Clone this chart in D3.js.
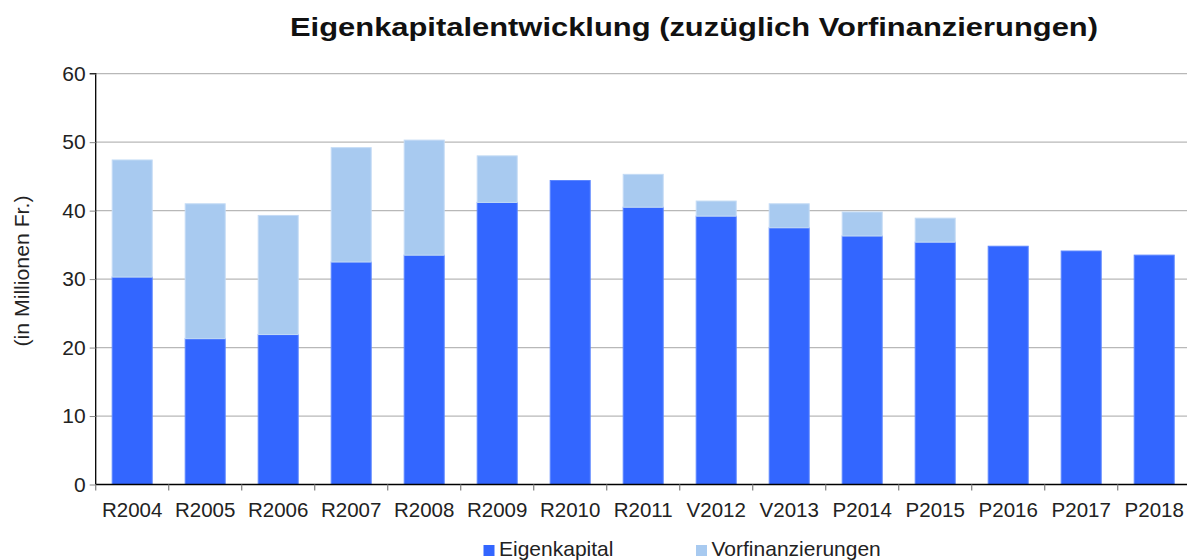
<!DOCTYPE html>
<html><head><meta charset="utf-8">
<script src="https://cdn.jsdelivr.net/npm/d3@7"></script>
<style>body{margin:0;background:#fff;overflow:hidden}svg{display:block;font-family:"Liberation Sans",Arial,sans-serif}</style>
</head><body><svg id="c" width="1187" height="560"></svg>
<script>
const categories = ["R2004","R2005","R2006","R2007","R2008","R2009","R2010","R2011","V2012","V2013","P2014","P2015","P2016","P2017","P2018"];
const eigenkapital = [30.3,21.3,21.9,32.5,33.5,41.2,44.4,40.5,39.2,37.5,36.3,35.4,34.8,34.1,33.5];
const vorfinanzierungen = [17.1,19.7,17.4,16.7,16.8,6.8,0,4.8,2.2,3.5,3.5,3.5,0,0,0];
const yTicks = [0,10,20,30,40,50,60];
const seriesNames = ["Eigenkapital","Vorfinanzierungen"];
const colors = ["#3366FF","#A8CAF0"];

const svg = d3.select("#c");
const x0 = 95.7, bw = 73.0;
const x = d3.scaleBand().domain(categories).range([x0, x0 + bw*categories.length]).paddingInner(0.452).paddingOuter(0.226);
const y = d3.scaleLinear().domain([0,60]).range([484.5, 73.7]);

// gridlines
svg.append("g").selectAll("line").data(yTicks.filter(d=>d>0)).join("line")
  .attr("x1", x0).attr("x2", 1187).attr("y1", d=>y(d)).attr("y2", d=>y(d))
  .attr("stroke", "#b8b8b8").attr("stroke-width", 1.3);

const data = categories.map((c,i)=>({c, e:eigenkapital[i], v:vorfinanzierungen[i]}));
const stack = d3.stack().keys(["e","v"])(data);
svg.append("g").selectAll("g").data(stack).join("g")
  .attr("fill", (d,i)=>colors[i])
  .attr("stroke", (d,i)=> i===0 ? "#5c86ff" : "#c4dbf5").attr("stroke-width", 1)
  .selectAll("rect").data(d=>d.filter(p=>p[1]-p[0]>0)).join("rect")
  .attr("x", d=>x(d.data.c)).attr("width", x.bandwidth())
  .attr("y", d=>y(d[1])).attr("height", d=>y(d[0])-y(d[1]));

// y axis
const yAxis = d3.axisLeft(y).tickValues(yTicks).tickSize(6).tickPadding(4);
const gy = svg.append("g").attr("transform", `translate(${x0},0)`).call(yAxis);
gy.select(".domain").attr("stroke","#000").attr("stroke-width",1.3).attr("d", `M-6,${y(60)}H0V${y(0)}`);
gy.selectAll(".tick line").attr("stroke","#888");
gy.selectAll("text").attr("font-size", 21).attr("fill","#222").attr("font-family","Liberation Sans, Arial, sans-serif");

// x axis
const xAxis = d3.axisBottom(x).tickSize(0).tickPadding(18);
const gx = svg.append("g").attr("transform", `translate(0,${y(0)})`).call(xAxis);
gx.select(".domain").attr("stroke","#000").attr("stroke-width",1.3).attr("d", `M${x0},0H1187`);
gx.selectAll("text").attr("font-size", 20.5).attr("fill","#222").attr("font-family","Liberation Sans, Arial, sans-serif").attr("dy","0.71em");
// category boundary ticks
svg.append("g").selectAll("line").data(d3.range(categories.length+1)).join("line")
  .attr("x1", i=>x0+i*bw).attr("x2", i=>x0+i*bw).attr("y1", y(0)).attr("y2", y(0)+6)
  .attr("stroke","#888").attr("stroke-width",1.3);

// title
svg.append("text").attr("x", 694).attr("y", 36).attr("text-anchor","middle")
  .attr("font-size", 26).attr("font-weight","bold").attr("fill","#111")
  .attr("textLength", 808).attr("lengthAdjust","spacingAndGlyphs")
  .text("Eigenkapitalentwicklung (zuzüglich Vorfinanzierungen)");

// y label
svg.append("text").attr("transform","translate(29,271) rotate(-90)").attr("text-anchor","middle")
  .attr("font-size", 20).attr("fill","#222").attr("textLength",151).attr("lengthAdjust","spacingAndGlyphs")
  .text("(in Millionen Fr.)");

// legend
const legX = [483.5, 696];
const lg = svg.append("g").selectAll("g").data(seriesNames).join("g")
  .attr("transform",(d,i)=>`translate(${legX[i]},545)`);
lg.append("rect").attr("width",11).attr("height",11).attr("fill",(d,i)=>colors[i]);
lg.append("text").attr("x",15.5).attr("y",10.5).attr("font-size",21).attr("fill","#222").text(d=>d);
</script></body></html>
